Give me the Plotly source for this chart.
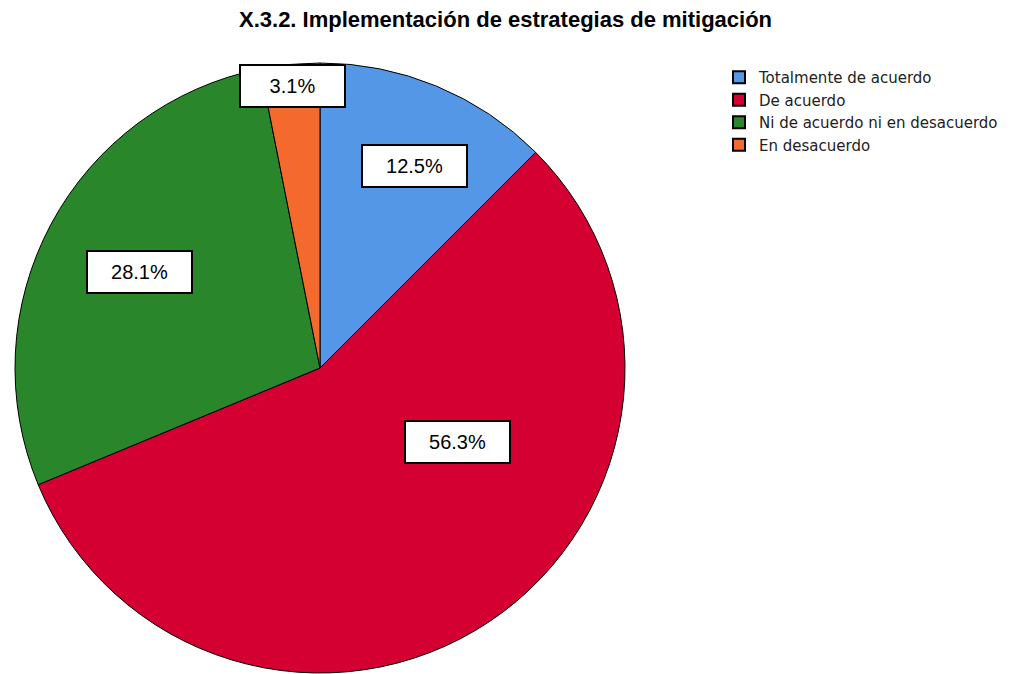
import math
import plotly.graph_objects as go

categories = ["Totalmente de acuerdo", "De acuerdo", "Ni de acuerdo ni en desacuerdo", "En desacuerdo"]
counts = [4, 18, 9, 1]
colors = ["#5597E7", "#D50032", "#2A862A", "#F46A2E"]

# label placement style: (angle offset in degrees from slice middle, radial fraction)
label_style = [(2.5, 0.73), (-28, 0.51), (0, 0.67), (0, 0.93)]

W, H = 1012, 674
OFF = 8  # page body margin in the browser
cx, cy, R = 320 - OFF, 368 - OFF, 305


def fx(px):
    return px / W


def fy(py):
    return 1 - py / H


fig = go.Figure(go.Pie(
    labels=categories,
    values=counts,
    sort=False,
    direction="clockwise",
    rotation=0,
    marker=dict(colors=colors, line=dict(color="black", width=1)),
    textinfo="none",
    hoverinfo="label+percent",
    domain=dict(x=[fx(cx - R), fx(cx + R)], y=[fy(cy + R), fy(cy - R)]),
))

total = sum(counts)
cum = 0
annotations = []
for v, (off, frac) in zip(counts, label_style):
    pct = math.floor(v / total * 1000 + 0.5) / 10
    mid = (cum + v / 2) / total * 360 + off
    cum += v
    a = math.radians(mid)
    px = cx + math.sin(a) * R * frac
    py = cy - math.cos(a) * R * frac
    annotations.append(dict(
        x=fx(px), y=fy(py), xref="paper", yref="paper",
        xanchor="center", yanchor="middle",
        text=f"{pct:.1f}%", showarrow=False,
        font=dict(family="Liberation Sans, Arial", size=20, color="black"),
        bgcolor="white", bordercolor="black", borderwidth=2,
        width=101, height=38, align="center", valign="middle",
    ))

annotations.append(dict(
    x=fx(505 - OFF), y=fy(20 - OFF), xref="paper", yref="paper",
    xanchor="center", yanchor="middle",
    text="<b>X.3.2. Implementación de estrategias de mitigación</b>",
    showarrow=False,
    font=dict(family="Liberation Sans, Arial", size=22, color="black"),
))

fig.update_layout(
    width=W, height=H,
    margin=dict(l=0, r=0, t=0, b=0),
    paper_bgcolor="white",
    plot_bgcolor="white",
    annotations=annotations,
    showlegend=True,
    legend=dict(
        x=fx(719 - OFF), y=fy(61 - OFF), xanchor="left", yanchor="top",
        font=dict(family="DejaVu Sans, Tahoma", size=15, color="#222"),
        itemsizing="constant", tracegroupgap=0,
        itemwidth=30,
    ),
)

fig.write_html("out.html")
